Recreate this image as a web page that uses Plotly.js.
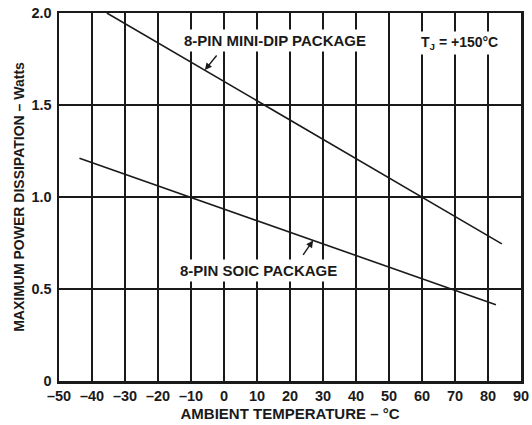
<!DOCTYPE html>
<html><head><meta charset="utf-8">
<script src="https://cdn.plot.ly/plotly-3.0.1.min.js"></script>
<style>html,body{margin:0;padding:0;background:#fff}#c{width:532px;height:425px}</style>
</head><body><div id="c"></div>
<script>
// Data
const dipTemp = [-35.5, 84.2];
const dipPower = [2.0, 0.745];
const soicTemp = [-43.8, 82.4];
const soicPower = [1.21, 0.415];
const xTickVals = [-50, -40, -30, -20, -10, 0, 10, 20, 30, 40, 50, 60, 70, 80, 90];
const xTickText = ["–50", "–40", "–30", "–20", "–10", "0", "10", "20", "30", "40", "50", "60", "70", "80", "90"];
const yTickVals = [0, 0.5, 1.0, 1.5, 2.0];
const yTickText = ["0", "0.5", "1.0", "1.5", "2.0"];

const F = "Liberation Sans, Arial, sans-serif";
const ink = "#1a1a1a";
const lineStyle = {color: ink, width: 1.6};
const b = s => "<b>" + s + "</b>";

const data = [
  {x: dipTemp, y: dipPower, mode: "lines", line: lineStyle, hoverinfo: "skip", showlegend: false},
  {x: soicTemp, y: soicPower, mode: "lines", line: lineStyle, hoverinfo: "skip", showlegend: false}
];

const layout = {
  width: 532, height: 425,
  margin: {l: 59, r: 11, t: 13, b: 44},
  paper_bgcolor: "#fff", plot_bgcolor: "#fff",
  font: {family: F, color: ink, size: 14},
  xaxis: {
    range: [-50, 90], tickvals: xTickVals, ticktext: xTickText.map(b),
    showgrid: true, gridcolor: ink, gridwidth: 2,
    zeroline: false, showline: true, mirror: true, linecolor: ink, linewidth: 2.5,
    ticks: "", ticklabelstandoff: 0, tickfont: {family: F, size: 14.5, color: ink},
    title: {text: b("AMBIENT TEMPERATURE – °C"), font: {family: F, size: 15, color: ink}, standoff: 6},
    fixedrange: true
  },
  yaxis: {
    range: [0, 2.0], tickvals: yTickVals, ticktext: yTickText.map(b),
    showgrid: true, gridcolor: ink, gridwidth: 2,
    zeroline: false, showline: true, mirror: true, linecolor: ink, linewidth: 2.5,
    ticks: "", ticklabelstandoff: 2, tickfont: {family: F, size: 14.5, color: ink},
    title: {text: b("MAXIMUM POWER DISSIPATION – Watts"), font: {family: F, size: 14, color: ink}, standoff: 4},
    fixedrange: true
  },
  annotations: [
    {x: 15.6, y: 1.848, xref: "x", yref: "y", text: b("8-PIN MINI-DIP PACKAGE"), showarrow: false,
     font: {family: F, size: 15, color: ink}, bgcolor: "#fff", borderpad: 2},
    {x: -5.8, y: 1.69, xref: "x", yref: "y", ax: 13, ay: -16,
     text: "", showarrow: true, arrowhead: 2, arrowsize: 1, arrowwidth: 1.4, arrowcolor: ink},
    {x: 71.4, y: 1.837, xref: "x", yref: "y", text: b("T<sub>J</sub> = +150°C"), showarrow: false,
     font: {family: F, size: 14, color: ink}, bgcolor: "#fff", borderpad: 2},
    {x: 10.45, y: 0.598, xref: "x", yref: "y", text: b("8-PIN SOIC PACKAGE"), showarrow: false,
     font: {family: F, size: 15, color: ink}, bgcolor: "#fff", borderpad: 2},
    {x: 27, y: 0.764, xref: "x", yref: "y", ax: -11, ay: 16,
     text: "", showarrow: true, arrowhead: 2, arrowsize: 1, arrowwidth: 1.4, arrowcolor: ink}
  ]
};

Plotly.newPlot("c", data, layout, {staticPlot: true, displayModeBar: false});
</script></body></html>
